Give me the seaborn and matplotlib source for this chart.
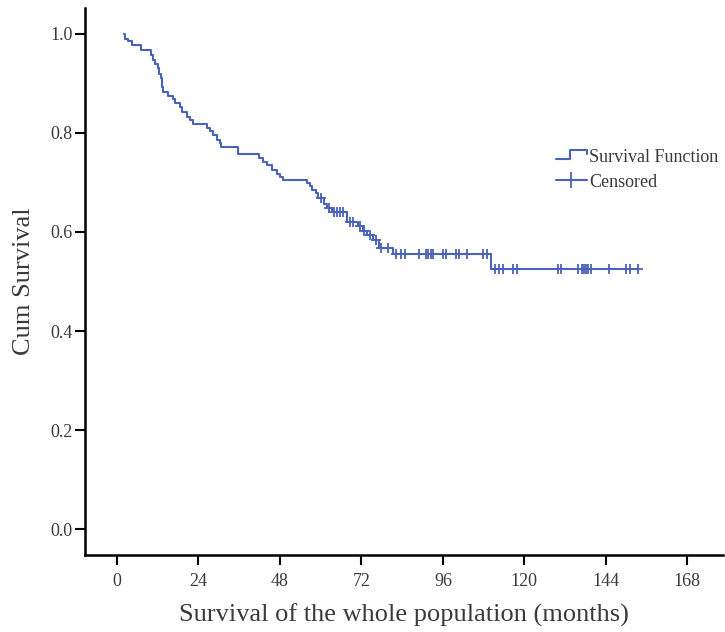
import numpy as np
import pandas as pd
import matplotlib
matplotlib.use("Agg")
import matplotlib.pyplot as plt
from matplotlib.lines import Line2D
from matplotlib.legend_handler import HandlerBase
import seaborn as sns

# Kaplan-Meier values
start_time = 2.2
event_times = [2.4, 3.4, 4.3, 7.0, 10.1, 10.6, 11.2, 12.0, 12.4, 12.9, 13.2, 13.6,
               15.1, 16.6, 17.1, 18.6, 19.1, 20.5, 21.6, 22.5, 26.6, 27.4, 28.4,
               29.4, 30.3, 30.8, 35.8, 41.9, 42.9, 44.1, 45.6, 47.0, 48.0, 48.8,
               56.0, 56.9, 57.6, 58.6, 59.3, 61.0, 62.0, 63.2, 67.8, 71.0, 72.5,
               73.8, 75.5, 77.3, 81.2, 110.3]
surv = [0.990, 0.985, 0.978, 0.968, 0.957, 0.947, 0.939, 0.932, 0.920, 0.912, 0.892, 0.883,
        0.875, 0.868, 0.860, 0.853, 0.843, 0.833, 0.826, 0.818, 0.811, 0.804, 0.796,
        0.786, 0.779, 0.772, 0.758, 0.749, 0.742, 0.735, 0.725, 0.717, 0.712, 0.705,
        0.698, 0.692, 0.685, 0.678, 0.668, 0.657, 0.648, 0.641, 0.621, 0.612, 0.603,
        0.594, 0.584, 0.568, 0.556, 0.525]
censor_times = [60.0, 62.5, 64.0, 64.8, 65.6, 66.6, 68.6, 69.6, 71.6, 72.8, 74.5, 76.3,
                77.8, 79.9, 82.2, 83.8, 84.8, 89.0, 91.0, 91.7, 92.4, 93.0, 95.9, 96.9,
                99.8, 100.8, 103.0, 107.9, 108.9, 111.3, 112.6, 113.6, 116.7, 117.7,
                130.0, 130.7, 135.9, 136.9, 137.5, 138.1, 138.8, 139.5, 145.0, 149.9,
                151.1, 153.6]
x_ticks = [0, 24, 48, 72, 96, 120, 144, 168]
y_ticks = [0.0, 0.2, 0.4, 0.6, 0.8, 1.0]

blue = "#4a62b8"
grey = "#3a3a3a"

sns.set_style("ticks")
plt.rcParams["font.family"] = ["Liberation Serif", "DejaVu Serif"]

# step curve
curve = pd.DataFrame({
    "time": [start_time] + event_times + [censor_times[-1]],
    "surv": [1.0] + surv + [surv[-1]],
})
idx = np.searchsorted(event_times, censor_times, side="right") - 1
cens = pd.DataFrame({"time": censor_times, "surv": np.array(surv)[idx]})

fig = plt.figure(figsize=(7.25, 6.32), dpi=100)
ax = fig.add_axes([85 / 725, 1 - 555 / 632, 638 / 725, 547 / 632])

sns.lineplot(data=curve, x="time", y="surv", drawstyle="steps-post", estimator=None,
             sort=False, color=blue, linewidth=1.5, ax=ax)
sns.scatterplot(data=cens, x="time", y="surv", marker="+", s=60, color=blue,
                linewidth=1.3, ax=ax, zorder=3)

ax.set_xlim(-9.4, 178.5)
ax.set_ylim(-0.0525, 1.0525)
ax.set_xticks(x_ticks)
ax.set_yticks(y_ticks)
ax.set_yticklabels([f"{v:.1f}" for v in y_ticks])
ax.tick_params(axis="both", length=7, width=1.5, color="black", labelcolor=grey,
               labelsize=13)
ax.tick_params(axis="x", pad=6)
ax.tick_params(axis="y", pad=2)
for side in ["left", "bottom"]:
    ax.spines[side].set_linewidth(1.8)
    ax.spines[side].set_color("black")
sns.despine(ax=ax)

ax.set_xlabel("Survival of the whole population (months)", fontsize=19, color=grey,
              labelpad=10)
ax.set_ylabel("Cum Survival", fontsize=19, color=grey, labelpad=11)


class StepHandler(HandlerBase):
    def create_artists(self, legend, orig_handle, xdescent, ydescent, width, height,
                       fontsize, trans):
        x0 = -xdescent
        y0 = -ydescent
        xs = [x0, x0 + 0.45 * width, x0 + 0.45 * width, x0 + width, x0 + width]
        ys = [y0 + 0.25 * height, y0 + 0.25 * height, y0 + 0.95 * height,
              y0 + 0.95 * height, y0 + 0.6 * height]
        line = Line2D(xs, ys, color=blue, linewidth=1.5, transform=trans)
        return [line]


step_handle = Line2D([], [], color=blue)
cens_handle = Line2D([], [], color=blue, marker="+", markersize=12, markeredgewidth=1.3,
                     linewidth=1.5)
fig.legend([step_handle, cens_handle], ["Survival Function", "Censored"],
           handler_map={step_handle: StepHandler()},
           loc="upper left", bbox_to_anchor=(556 / 725, 1 - 149 / 632),
           frameon=False, fontsize=13, labelcolor=grey, handlelength=1.7,
           handletextpad=0.15, labelspacing=0.42, borderpad=0, borderaxespad=0)

fig.savefig("out.png", dpi=100)
